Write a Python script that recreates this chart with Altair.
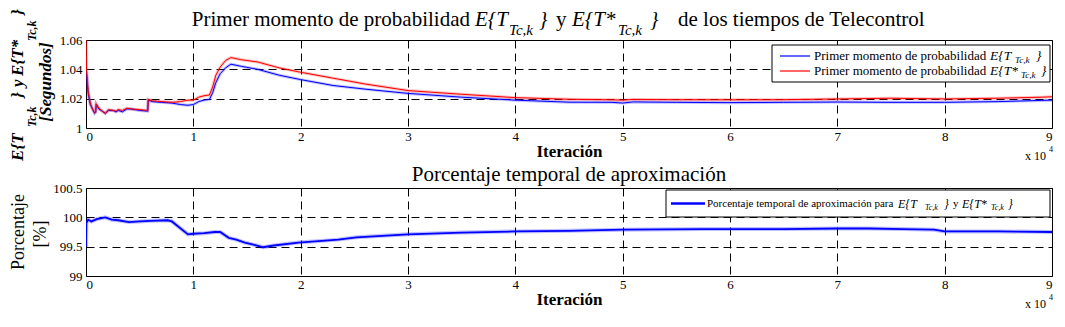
import altair as alt
import pandas as pd

FONT = "Liberation Serif"

# ---------------- data (x in units of 10^4 iterations) ----------------
x_top = [0, 0.005, 0.02, 0.04, 0.06, 0.08, 0.09, 0.095, 0.12, 0.16, 0.18, 0.21, 0.25, 0.28,
         0.30, 0.34, 0.38, 0.42, 0.50, 0.575, 0.58, 0.62, 0.70, 0.80, 0.88, 0.95, 1.00, 1.05,
         1.10, 1.15, 1.18, 1.21, 1.25, 1.30, 1.35, 1.45, 1.6, 1.8, 2.0, 2.3, 2.6, 3.0, 3.5,
         4.0, 4.5, 4.9, 5.0, 5.1, 5.5, 6.0, 6.5, 7.0, 7.5, 8.0, 8.5, 8.9, 9.0]
blue_top = [1.038, 1.037, 1.024, 1.016, 1.013, 1.010, 1.011, 1.016, 1.013, 1.011, 1.010, 1.012,
            1.012, 1.011, 1.012, 1.011, 1.013, 1.013, 1.012, 1.0115, 1.019, 1.018, 1.0175, 1.017,
            1.016, 1.0155, 1.016, 1.018, 1.019, 1.0195, 1.024, 1.031, 1.037, 1.041, 1.0435,
            1.042, 1.040, 1.036, 1.033, 1.029, 1.0265, 1.0236, 1.021, 1.019, 1.0176, 1.0175,
            1.017, 1.0178, 1.0175, 1.0173, 1.0175, 1.0177, 1.0175, 1.0175, 1.018, 1.0188, 1.019]
red_top = [1.06, 1.040, 1.025, 1.017, 1.013, 1.0105, 1.011, 1.0165, 1.0135, 1.011, 1.010, 1.0125,
           1.012, 1.0115, 1.0125, 1.012, 1.0135, 1.013, 1.0125, 1.012, 1.0195, 1.0185, 1.018,
           1.0175, 1.018, 1.019, 1.019, 1.021, 1.022, 1.0225, 1.028, 1.036, 1.0415, 1.046,
           1.048, 1.0465, 1.045, 1.041, 1.038, 1.034, 1.030, 1.0255, 1.023, 1.0207, 1.0196,
           1.0192, 1.019, 1.0195, 1.0193, 1.0192, 1.0193, 1.0198, 1.0203, 1.0198, 1.0203,
           1.021, 1.0213]

x_bot = [0, 0.003, 0.02, 0.05, 0.1, 0.18, 0.24, 0.3, 0.4, 0.5, 0.6, 0.76, 0.8, 0.95, 1.0, 1.1,
         1.2, 1.25, 1.33, 1.4, 1.48, 1.55, 1.65, 1.75, 1.98, 2.35, 2.52, 3.0, 3.5, 4.0, 4.5,
         5.0, 5.75, 6.5, 7.0, 7.3, 7.6, 7.9, 8.0, 8.5, 9.0]
pct_bot = [99.5, 99.9, 99.96, 99.93, 99.97, 100.0, 99.96, 99.95, 99.92, 99.93, 99.94, 99.95,
           99.93, 99.71, 99.72, 99.73, 99.75, 99.75, 99.65, 99.62, 99.57, 99.54, 99.49, 99.52,
           99.57, 99.62, 99.66, 99.71, 99.74, 99.76, 99.77, 99.79, 99.80, 99.80, 99.81, 99.81,
           99.80, 99.79, 99.76, 99.76, 99.75]

x_ticks = list(range(10))
y_ticks_top = [1.0, 1.02, 1.04, 1.06]
y_ticks_bot = [99, 99.5, 100, 100.5]
x_dom = [0, 9]
top_dom = [1.0, 1.06]
bot_dom = [99, 100.5]

W, H = 966, 88


def px_to_x(px):
    return x_dom[0] + px / W * (x_dom[1] - x_dom[0])


def py_to_y(py, dom):
    return dom[1] - py / H * (dom[1] - dom[0])


def x_enc():
    return alt.X("x:Q", scale=alt.Scale(domain=x_dom, nice=False),
                 axis=alt.Axis(values=x_ticks, format="d", grid=True, gridDash=[8, 5],
                               gridColor="black", gridOpacity=1, gridWidth=1, ticks=False,
                               domain=False, labelFont=FONT, labelFontSize=13,
                               labelColor="black", labelPadding=2, labelOverlap=False,
                               title="Iteración", titleFont=FONT, titleFontSize=17,
                               titleFontWeight="bold", titleColor="black", titlePadding=0))


def y_enc(dom, ticks):
    return alt.Y("v:Q", scale=alt.Scale(domain=dom, nice=False, zero=False),
                 axis=alt.Axis(values=ticks, format="~g", grid=True, gridDash=[8, 5],
                               gridColor="black", gridOpacity=1, gridWidth=1, ticks=False,
                               domain=False, labelFont=FONT, labelFontSize=13,
                               labelColor="black", labelPadding=4, labelOverlap=False,
                               title=None))


def texts(rows, dom, ticks, **kw):
    df = pd.DataFrame({
        "t": [r[0] for r in rows],
        "x": [px_to_x(r[1]) for r in rows],
        "v": [py_to_y(r[2], dom) for r in rows],
        "fs": [r[3] for r in rows],
    })
    return alt.Chart(df).mark_text(font=FONT, color="black", **kw).encode(
        x=x_enc(), y=y_enc(dom, ticks), text="t:N", size=alt.Size("fs:Q", scale=None))


def box(x0, x1, y0, y1, dom, ticks):
    df = pd.DataFrame({"x": [px_to_x(x0)], "x2": [px_to_x(x1)],
                       "v": [py_to_y(y0, dom)], "v2": [py_to_y(y1, dom)]})
    return alt.Chart(df).mark_rect(fill="white", stroke="black", strokeWidth=1).encode(
        x=x_enc(), x2="x2:Q", y=y_enc(dom, ticks), y2="v2:Q")


def sample(x0, x1, ys, colors, dom, ticks, width):
    df = pd.DataFrame({"x": [px_to_x(x0)] * len(ys), "x2": [px_to_x(x1)] * len(ys),
                       "v": [py_to_y(y, dom) for y in ys], "c": colors})
    return alt.Chart(df).mark_rule(strokeWidth=width).encode(
        x=x_enc(), x2="x2:Q", y=y_enc(dom, ticks), color=alt.Color("c:N", scale=None))


def series_line(df, dom, ticks, color, width, opacity=1.0):
    return alt.Chart(df).mark_line(color=color, strokeWidth=width, opacity=opacity,
                                   clip=True).encode(x=x_enc(), y=y_enc(dom, ticks))


# ---------------- top panel ----------------
df_blue = pd.DataFrame({"x": x_top, "v": blue_top})
df_red = pd.DataFrame({"x": x_top, "v": red_top})
TD, TT = top_dom, y_ticks_top

top_title_reg = texts([
    ("Primer momento de probabilidad", 384, -14, 21),
], TD, TT, align="right", baseline="alphabetic")
top_title_reg2 = texts([
    ("y", 470, -14, 21),
    ("de los tiempos de Telecontrol", 592, -14, 21),
], TD, TT, align="left", baseline="alphabetic")
top_title_it = texts([
    ("E{T", 389, -14, 21), ("}", 453, -14, 21),
    ("E{T*", 486, -14, 21), ("}", 564, -14, 21),
    ("Tc,k", 423, -5, 15), ("Tc,k", 532, -5, 15),
], TD, TT, align="left", baseline="alphabetic", fontStyle="italic")

top_ytitle = texts([
    ("E{T", -68, 121, 17), ("}", -68, 58, 17), ("y", -68, 47, 17),
    ("E{T*", -68, 36, 17), ("}", -68, -25, 17),
    ("Tc,k", -54, 87, 12), ("Tc,k", -54, 1, 12),
], TD, TT, align="left", baseline="middle", angle=270, fontStyle="italic", fontWeight="bold")
top_ytitle2 = texts([("[Segundos]", -40, 42, 17)], TD, TT, align="center",
                    baseline="middle", angle=270, fontStyle="italic", fontWeight="bold")

top_leg_box = box(686, 964, 5, 42, TD, TT)
top_leg_lines = sample(694, 724, [16, 31], ["#0000ff", "#ff0000"], TD, TT, 1.2)
top_leg_reg = texts([
    ("Primer momento de probabilidad", 728, 16, 13),
    ("Primer momento de probabilidad", 728, 31, 13),
], TD, TT, align="left", baseline="middle")
top_leg_it = texts([
    ("E{T", 904, 16, 13.5), ("}", 950, 16, 13.5),
    ("E{T*", 904, 31, 13.5), ("}", 955, 31, 13.5),
    ("Tc,k", 929, 20, 9), ("Tc,k", 935, 35, 9),
], TD, TT, align="left", baseline="middle", fontStyle="italic")

top_exp = texts([("x 10", 939, 116, 12), ("4", 963, 110, 8)], TD, TT,
                align="left", baseline="middle")

top = alt.layer(
    series_line(df_blue, TD, TT, "#0000ff", 3, 0.25),
    series_line(df_red, TD, TT, "#ff0000", 3, 0.25),
    series_line(df_blue, TD, TT, "#0000ff", 1),
    series_line(df_red, TD, TT, "#ff0000", 1),
    top_leg_box, top_leg_lines, top_leg_reg, top_leg_it,
    top_title_reg, top_title_reg2, top_title_it, top_ytitle, top_ytitle2, top_exp,
).properties(width=W, height=H)

# ---------------- bottom panel ----------------
df_pct = pd.DataFrame({"x": x_bot, "v": pct_bot})
BD, BT = bot_dom, y_ticks_bot

bot_title = texts([("Porcentaje temporal de aproximación", 483, -7, 21)], BD, BT,
                  align="center", baseline="alphabetic")
bot_ytitle = texts([("Porcentaje", -67, 44, 18), ("[%]", -45, 46, 18)], BD, BT,
                   align="center", baseline="middle", angle=270)

bot_leg_box = box(580, 964, 2, 29, BD, BT)
bot_leg_line = sample(585, 619, [15.5], ["#0000ff"], BD, BT, 2.5)
bot_leg_reg = texts([
    ("Porcentaje temporal de aproximación para", 621, 15.5, 11),
    ("y", 867, 15.5, 11),
], BD, BT, align="left", baseline="middle")
bot_leg_it = texts([
    ("E{T", 812, 15.5, 12), ("}", 858, 15.5, 12),
    ("E{T*", 876, 15.5, 12), ("}", 922, 15.5, 12),
    ("Tc,k", 839, 19.5, 8), ("Tc,k", 905, 19.5, 8),
], BD, BT, align="left", baseline="middle", fontStyle="italic")

bot_exp = texts([("x 10", 939, 116, 12), ("4", 963, 110, 8)], BD, BT,
                align="left", baseline="middle")

bottom = alt.layer(
    series_line(df_pct, BD, BT, "#0000ff", 4, 0.25),
    series_line(df_pct, BD, BT, "#0000ff", 1.8),
    bot_leg_box, bot_leg_line, bot_leg_reg, bot_leg_it,
    bot_title, bot_ytitle, bot_exp,
).properties(width=W, height=H)

chart = alt.vconcat(top, bottom, spacing=60, bounds="flush").properties(
    padding={"left": 0, "top": 0, "right": 0, "bottom": 0},
    background="white",
).configure_view(stroke="black", strokeWidth=1)

chart.save("out.html", embed_options={"renderer": "svg", "actions": False})
